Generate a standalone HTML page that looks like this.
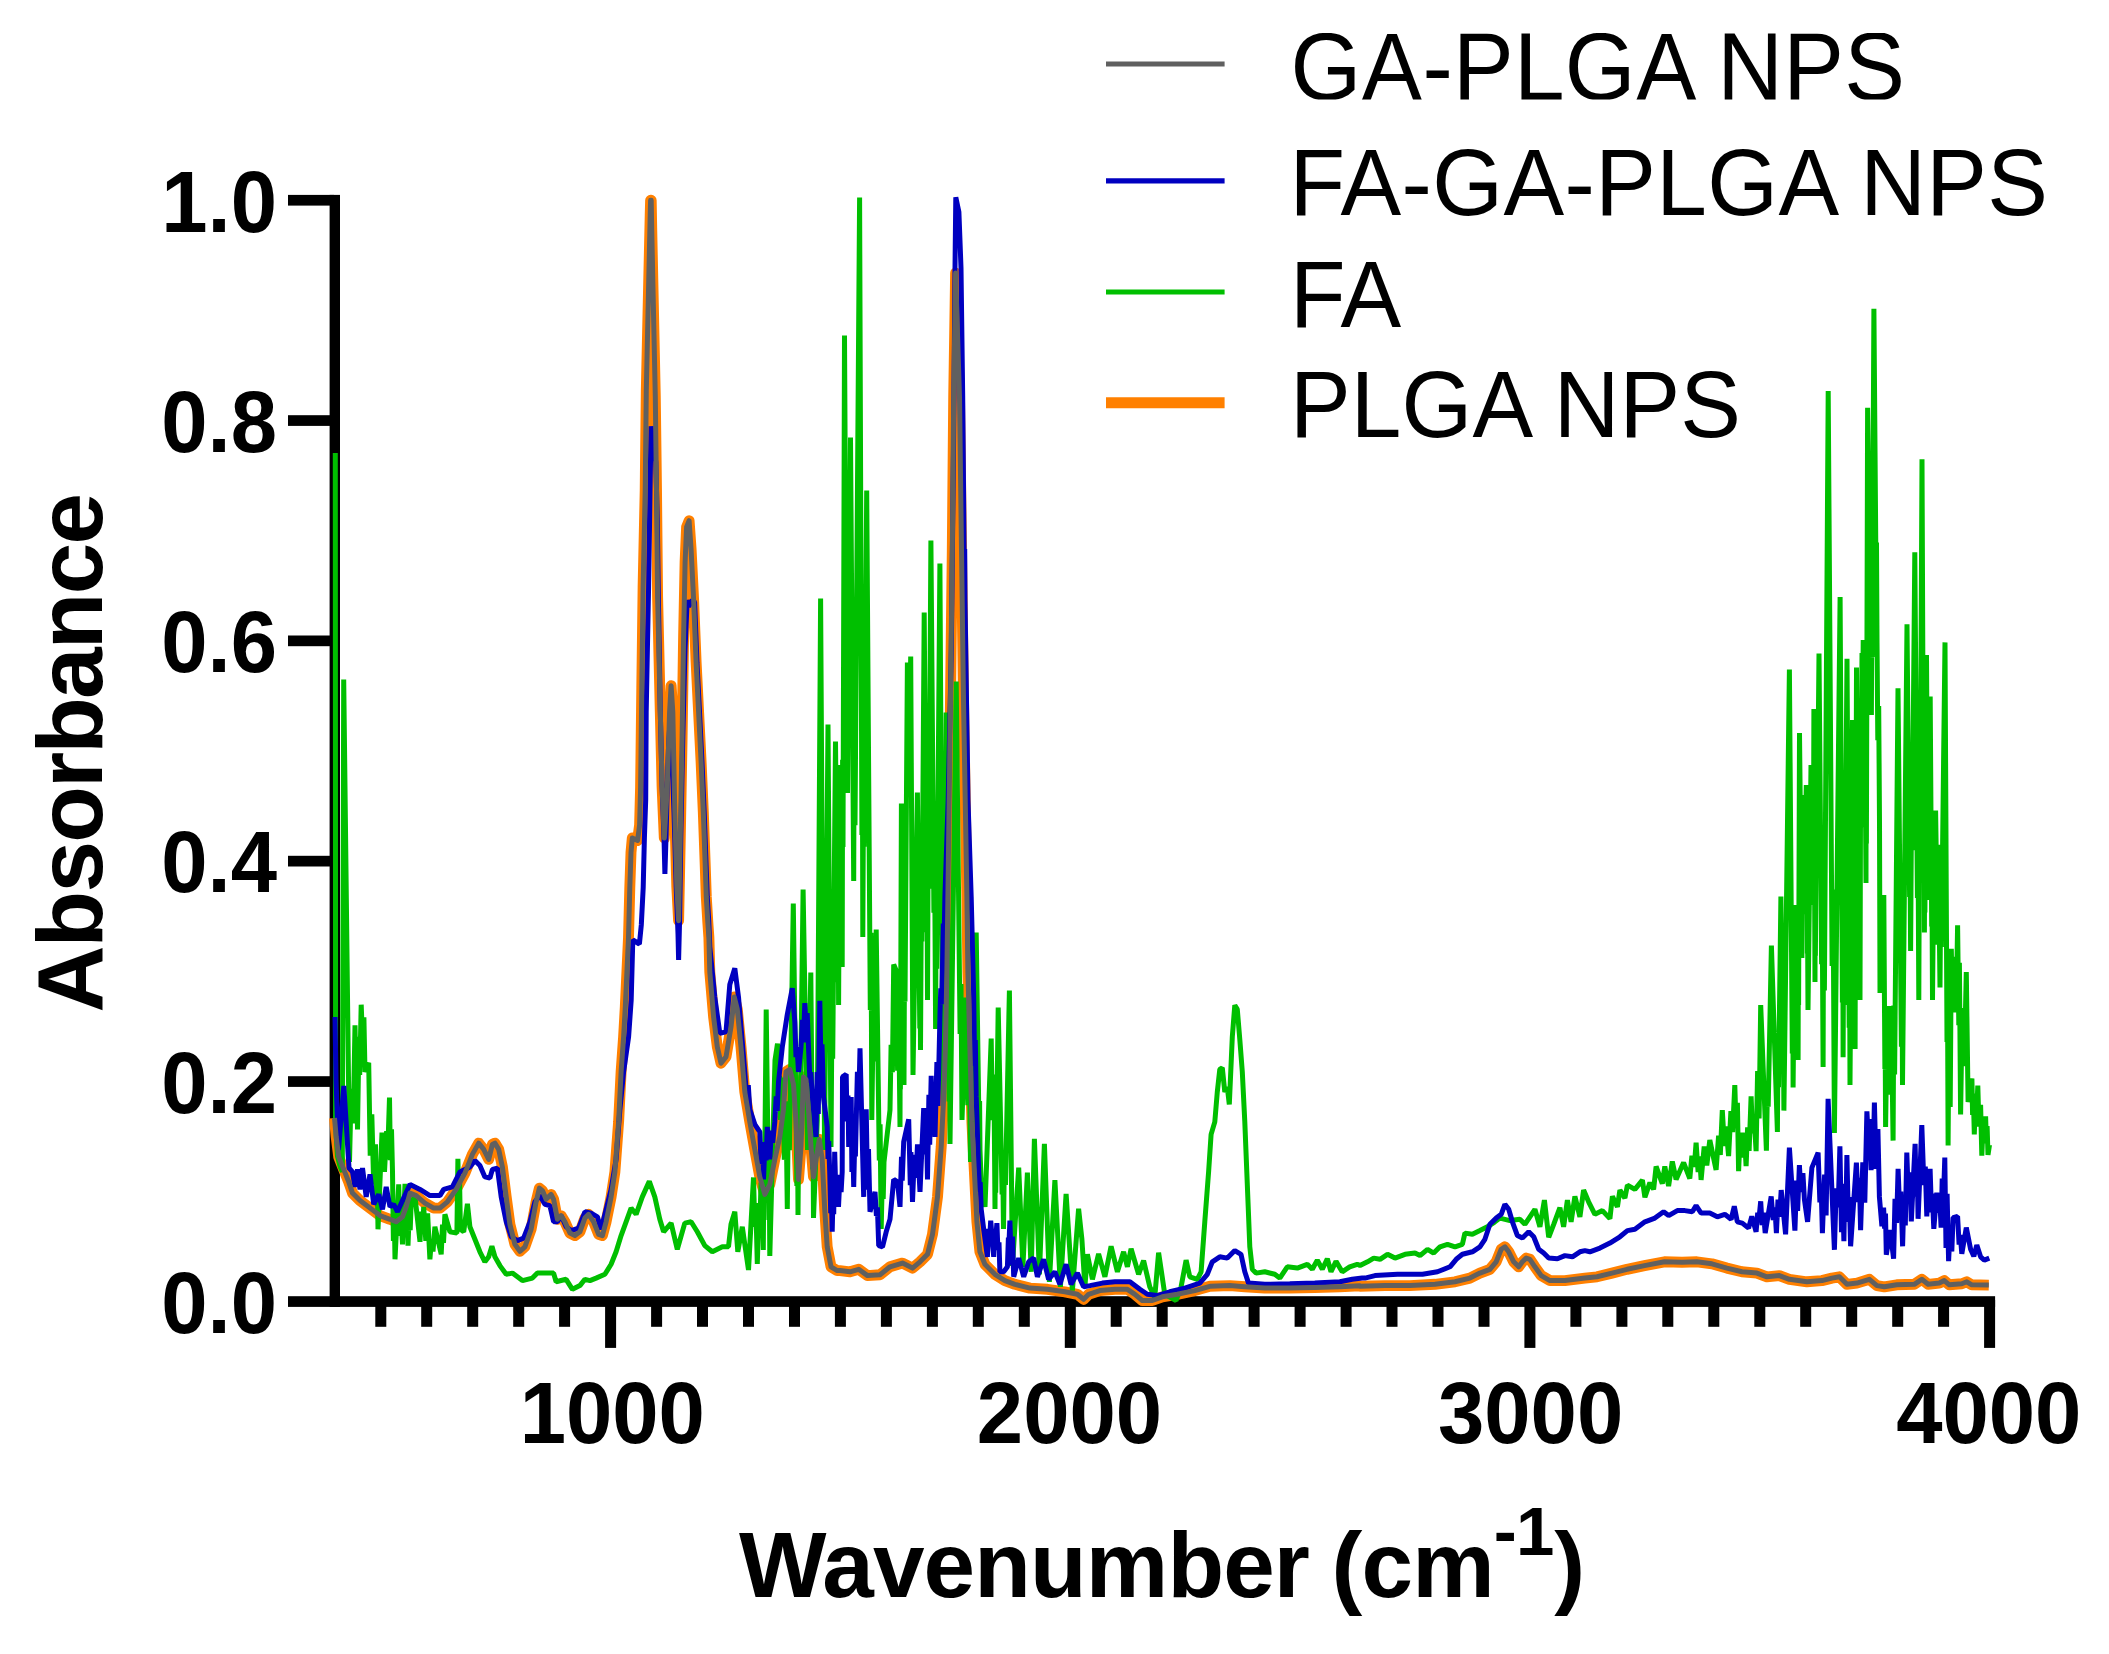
<!DOCTYPE html>
<html lang="en"><head><meta charset="utf-8"><title>FTIR Absorbance vs Wavenumber</title>
<style>html,body{margin:0;padding:0;background:#fff}svg{display:block}</style></head>
<body>
<svg width="2109" height="1654" viewBox="0 0 2109 1654">
<rect width="100%" height="100%" fill="#fff"/>
<g fill="#000">
<rect x="329.6" y="194.9" width="10.4" height="1112.0"/>
<rect x="288" y="1296.2" width="1707.1" height="10.7"/>
<rect x="288" y="1076.2" width="46" height="10.7"/>
<rect x="288" y="855.8" width="46" height="10.7"/>
<rect x="288" y="635.5" width="46" height="10.7"/>
<rect x="288" y="415.2" width="46" height="10.7"/>
<rect x="288" y="194.9" width="46" height="10.7"/>
<rect x="375.3" y="1300" width="11" height="26.8"/>
<rect x="421.2" y="1300" width="11" height="26.8"/>
<rect x="467.2" y="1300" width="11" height="26.8"/>
<rect x="513.2" y="1300" width="11" height="26.8"/>
<rect x="559.1" y="1300" width="11" height="26.8"/>
<rect x="605.1" y="1300" width="11" height="47.9"/>
<rect x="651.1" y="1300" width="11" height="26.8"/>
<rect x="697.0" y="1300" width="11" height="26.8"/>
<rect x="743.0" y="1300" width="11" height="26.8"/>
<rect x="789.0" y="1300" width="11" height="26.8"/>
<rect x="834.9" y="1300" width="11" height="26.8"/>
<rect x="880.9" y="1300" width="11" height="26.8"/>
<rect x="926.9" y="1300" width="11" height="26.8"/>
<rect x="972.8" y="1300" width="11" height="26.8"/>
<rect x="1018.8" y="1300" width="11" height="26.8"/>
<rect x="1064.8" y="1300" width="11" height="47.9"/>
<rect x="1110.7" y="1300" width="11" height="26.8"/>
<rect x="1156.7" y="1300" width="11" height="26.8"/>
<rect x="1202.7" y="1300" width="11" height="26.8"/>
<rect x="1248.6" y="1300" width="11" height="26.8"/>
<rect x="1294.6" y="1300" width="11" height="26.8"/>
<rect x="1340.6" y="1300" width="11" height="26.8"/>
<rect x="1386.5" y="1300" width="11" height="26.8"/>
<rect x="1432.5" y="1300" width="11" height="26.8"/>
<rect x="1478.5" y="1300" width="11" height="26.8"/>
<rect x="1524.4" y="1300" width="11" height="47.9"/>
<rect x="1570.4" y="1300" width="11" height="26.8"/>
<rect x="1616.4" y="1300" width="11" height="26.8"/>
<rect x="1662.3" y="1300" width="11" height="26.8"/>
<rect x="1708.3" y="1300" width="11" height="26.8"/>
<rect x="1754.3" y="1300" width="11" height="26.8"/>
<rect x="1800.2" y="1300" width="11" height="26.8"/>
<rect x="1846.2" y="1300" width="11" height="26.8"/>
<rect x="1892.2" y="1300" width="11" height="26.8"/>
<rect x="1938.1" y="1300" width="11" height="26.8"/>
<rect x="1984.1" y="1300" width="11" height="47.9"/>
</g>
<g fill="none" stroke-linejoin="round" stroke-linecap="butt">
<polyline stroke="#FF8000" stroke-width="10.9" points="334.5,1118.1 336.2,1136.9 338.7,1156.9 343.7,1169.4 348.7,1181.9 352.5,1193.1 360.0,1200.6 370.0,1208.1 380.0,1215.6 390.0,1219.3 396.2,1221.8 402.5,1216.8 406.2,1206.8 410.0,1193.1 416.2,1195.6 424.9,1203.1 433.7,1208.1 439.9,1208.1 447.4,1201.8 456.2,1189.4 464.9,1173.1 472.4,1154.4 478.7,1143.1 483.7,1149.4 488.7,1159.4 492.4,1144.4 494.9,1143.1 498.7,1149.4 502.4,1166.9 506.2,1196.9 509.9,1224.3 514.9,1244.3 519.9,1251.3 524.9,1246.8 531.1,1229.3 536.1,1201.8 539.4,1188.1 542.4,1190.6 546.1,1199.3 551.1,1194.4 553.6,1199.3 557.4,1219.3 561.1,1215.6 564.9,1221.8 569.9,1233.1 574.9,1235.6 579.9,1231.8 584.9,1218.1 588.6,1214.3 593.6,1221.8 598.6,1234.3 602.4,1235.6 606.1,1221.8 611.1,1196.9 614.9,1171.9 618.6,1121.9 621.1,1071.9 623.6,1036.9 625.3,1006.9 628.5,937.7 629.8,887.6 631.0,852.6 632.3,838.0 637.6,840.5 639.6,825.0 640.6,787.0 641.8,687.0 643.1,587.0 645.2,490.0 646.3,390.0 648.8,277.6 650.2,215.0 650.6,200.3 651.2,200.3 651.7,227.6 653.3,302.7 655.3,397.0 656.5,490.0 657.6,597.0 660.3,711.9 662.1,786.9 664.3,838.1 667.3,786.9 669.6,711.9 671.1,685.7 672.8,711.9 674.8,811.8 676.8,886.8 678.6,920.7 680.3,836.8 682.1,736.9 683.6,636.9 685.1,562.0 686.6,527.0 689.1,520.7 691.1,549.5 693.6,599.4 696.1,661.9 698.6,711.9 701.1,761.9 703.3,811.8 705.1,861.8 706.3,897.0 707.8,922.0 708.9,937.7 709.8,972.0 713.6,1016.9 717.3,1046.9 721.0,1063.2 726.0,1056.9 731.0,1026.9 734.3,997.0 737.3,1009.4 741.0,1046.9 744.8,1091.9 749.8,1121.9 754.8,1149.4 759.8,1176.9 764.8,1194.4 769.8,1184.4 774.8,1159.4 779.8,1136.9 783.5,1109.4 786.0,1071.9 789.8,1069.4 793.5,1084.4 796.0,1121.9 798.5,1179.4 801.0,1146.9 803.5,1076.9 806.0,1079.4 808.5,1109.4 811.0,1146.9 813.5,1176.9 816.0,1159.4 819.3,1139.4 822.2,1159.4 824.7,1209.3 827.2,1246.8 831.0,1266.8 837.2,1270.6 840.0,1270.6 850.0,1271.8 858.7,1269.3 867.5,1275.6 880.0,1274.8 890.0,1266.8 902.5,1263.1 912.5,1268.1 920.0,1261.8 927.5,1254.3 932.5,1234.3 937.5,1196.9 941.2,1146.9 943.7,1096.9 945.4,1046.9 946.9,972.0 947.9,897.0 950.5,700.0 952.3,550.0 953.7,397.0 955.6,273.0 959.5,397.0 961.5,550.0 963.5,700.0 966.9,897.0 967.9,972.0 969.9,1046.9 971.9,1121.9 974.4,1171.9 976.9,1221.8 979.9,1251.8 984.9,1264.3 994.9,1274.3 1004.9,1280.6 1014.9,1284.3 1029.9,1288.1 1047.4,1289.3 1064.9,1291.8 1077.4,1294.3 1083.6,1299.3 1088.6,1294.3 1099.9,1290.6 1114.9,1289.3 1127.4,1289.3 1134.9,1294.3 1142.3,1300.5 1152.3,1300.5 1162.3,1296.8 1177.3,1294.3 1194.8,1290.6 1209.8,1286.3 1229.8,1285.6 1244.8,1286.8 1264.8,1288.1 1289.8,1288.1 1314.8,1287.6 1339.8,1286.8 1359.7,1285.8 1360.0,1286.3 1385.0,1285.6 1410.0,1285.6 1435.0,1284.3 1455.0,1281.8 1469.9,1278.1 1479.9,1273.1 1489.9,1269.3 1496.2,1261.8 1501.2,1249.3 1504.9,1246.8 1508.7,1251.8 1513.7,1261.8 1518.7,1266.8 1522.4,1261.8 1526.2,1258.1 1529.9,1259.3 1534.9,1266.8 1541.2,1275.6 1549.9,1280.6 1564.9,1280.6 1584.9,1278.1 1597.0,1276.8 1612.0,1273.1 1627.0,1269.3 1644.5,1265.6 1664.5,1261.8 1682.0,1262.3 1696.9,1261.8 1711.9,1263.8 1726.9,1268.1 1741.9,1271.8 1756.9,1273.1 1766.9,1276.8 1779.4,1275.6 1789.4,1279.3 1806.9,1281.8 1821.9,1280.6 1831.9,1278.1 1839.4,1276.8 1846.9,1284.3 1856.9,1283.1 1869.4,1279.3 1876.9,1285.6 1884.3,1286.8 1896.8,1284.8 1914.3,1284.3 1921.8,1279.3 1928.1,1284.3 1939.3,1283.1 1944.3,1280.6 1949.3,1284.8 1961.8,1283.8 1966.8,1281.8 1971.8,1284.8 1988.8,1285.1"/>
<polyline stroke="#00BF00" stroke-width="5" stroke-linejoin="bevel" points="335.3,453.0 335.6,1118.0 336.3,1137.7 337.5,1156.5 340.0,1166.5 342.3,1171.7 343.7,679.5 349.5,1162.0 351.2,1088.7 353.2,1123.4 355.0,1025.2 355.9,1080.7 356.5,1056.7 357.5,1129.4 359.0,1036.7 359.7,1075.0 361.2,1004.7 362.5,1038.8 363.9,1017.3 365.0,1071.9 368.7,1062.7 370.2,1155.7 371.8,1114.4 373.7,1184.4 374.3,1165.0 374.9,1170.9 375.5,1144.4 376.3,1197.8 377.1,1168.2 378.0,1229.3 382.0,1132.6 382.8,1161.9 383.7,1145.0 384.5,1171.9 386.6,1131.2 387.5,1159.3 389.5,1097.6 390.4,1160.1 391.5,1129.3 392.5,1171.9 393.4,1240.9 394.2,1210.5 395.0,1259.3 398.7,1184.4 400.1,1236.0 400.9,1211.1 402.5,1244.3 405.0,1183.9 406.0,1212.6 407.0,1198.6 408.0,1245.6 408.9,1221.3 410.2,1230.1 411.2,1201.8 415.0,1196.9 420.0,1241.8 421.3,1211.6 422.4,1228.9 423.7,1206.8 425.8,1240.9 427.6,1213.3 429.9,1259.3 431.5,1239.9 433.0,1251.5 434.9,1226.8 441.2,1254.3 442.5,1224.6 443.5,1242.8 444.9,1214.3 449.9,1231.8 456.9,1233.1 457.9,1158.9 458.8,1205.1 459.6,1181.9 460.4,1229.3 463.7,1231.8 467.4,1203.8 469.9,1226.8 474.9,1239.3 479.9,1251.8 484.9,1261.8 488.7,1256.8 491.9,1246.3 494.9,1256.8 499.9,1265.6 506.2,1274.3 512.4,1273.1 522.4,1280.6 532.4,1278.1 537.4,1273.1 553.6,1273.1 556.1,1281.8 566.1,1279.3 572.4,1289.3 579.9,1285.6 584.9,1279.3 589.9,1280.6 596.1,1278.1 604.9,1274.3 611.1,1264.3 616.1,1251.8 621.1,1235.6 626.1,1221.8 631.1,1208.1 636.1,1214.3 642.3,1196.9 649.3,1181.4 654.8,1196.9 659.8,1219.3 663.6,1231.8 671.1,1223.1 677.3,1249.3 684.8,1223.1 691.1,1221.8 697.3,1231.8 704.8,1245.6 712.3,1251.8 722.3,1246.8 728.5,1246.8 731.0,1224.3 734.8,1211.8 737.8,1251.8 742.3,1226.8 748.5,1270.0 753.5,1177.5 754.8,1226.8 755.8,1203.1 757.3,1264.0 758.4,1225.9 759.6,1236.7 761.0,1182.5 761.8,1226.2 762.3,1196.0 763.3,1250.0 763.9,1169.1 764.4,1197.6 766.2,1009.5 768.9,1220.0 769.4,1198.6 769.8,1256.0 775.0,1060.0 777.5,1043.5 778.3,1096.2 779.6,1075.7 780.5,1120.0 781.4,1091.2 782.3,1110.9 783.0,1077.5 784.3,1159.8 786.0,1106.1 787.3,1209.0 788.4,1101.4 789.4,1150.2 793.3,903.5 796.9,1186.0 797.7,1160.1 798.0,1215.0 799.1,1092.2 799.9,1139.1 803.1,889.5 807.5,1150.0 810.8,972.5 812.6,1169.4 813.1,1148.7 813.5,1218.0 817.3,1120.0 820.6,598.5 823.1,1011.9 823.7,954.1 824.5,1150.0 828.0,724.5 831.0,1147.0 832.0,1006.9 832.7,1058.8 835.5,741.5 837.9,982.1 838.4,952.2 838.6,1005.0 839.0,924.5 839.2,952.9 840.3,765.0 841.5,915.0 841.8,901.1 842.2,967.0 842.6,759.7 843.0,847.1 844.5,335.5 846.7,730.3 847.2,680.1 847.5,793.0 848.0,691.8 848.4,730.5 850.5,437.5 853.7,881.0 854.1,740.9 855.0,825.2 859.6,197.5 861.9,835.1 862.4,747.6 862.8,937.0 863.5,791.2 864.1,846.7 866.7,490.5 870.3,1010.1 871.1,932.7 871.8,1120.0 873.5,994.4 874.9,1061.5 876.2,929.5 879.3,1160.5 880.1,1124.4 881.2,1229.0 882.3,1178.7 883.2,1198.9 884.0,1162.0 890.0,1110.0 891.1,1044.8 892.4,1072.3 893.7,964.5 896.0,970.0 897.6,1070.8 898.8,1021.9 900.0,1127.0 900.2,1047.1 900.4,1089.3 901.4,803.5 903.2,1033.5 903.6,1006.6 904.0,1085.0 904.5,957.4 905.0,1001.6 907.4,662.5 907.9,717.7 908.4,681.7 909.0,760.0 910.7,656.5 913.0,1075.0 917.4,792.5 919.8,1028.4 920.2,996.7 920.5,1050.0 921.3,904.5 921.9,941.5 924.2,612.5 926.5,932.3 927.1,891.8 927.5,1000.0 928.2,836.8 928.7,888.8 930.9,540.5 933.9,912.8 934.6,857.3 935.6,1029.0 936.0,931.2 936.7,968.8 939.9,563.5 942.5,1025.9 943.1,959.5 943.5,1100.0 943.7,1032.8 944.1,1062.2 946.2,712.5 949.1,1101.5 949.7,1039.1 950.0,1144.0 956.2,681.5 960.1,1033.9 961.0,983.9 962.0,1120.0 966.0,997.5 967.8,1105.1 969.1,1047.7 970.5,1162.0 971.0,1106.8 971.9,1134.3 976.2,932.5 979.0,1126.4 979.6,1100.9 980.0,1150.0 981.7,1195.4 983.0,1179.7 985.0,1207.0 991.2,1038.5 992.4,1120.1 993.9,1074.6 995.0,1209.0 995.2,1172.2 995.7,1192.8 998.2,1007.5 1002.1,1194.4 1002.9,1180.3 1003.5,1229.0 1004.5,1150.4 1005.5,1184.9 1009.4,990.5 1012.4,1266.0 1018.7,1167.6 1022.9,1266.8 1027.4,1172.6 1031.2,1271.8 1034.4,1138.9 1039.4,1274.3 1044.4,1143.9 1049.4,1281.8 1054.9,1180.1 1060.4,1286.8 1066.1,1193.9 1072.4,1290.6 1078.6,1208.8 1081.9,1239.3 1084.9,1286.8 1087.4,1254.3 1092.4,1279.3 1098.6,1253.8 1104.9,1276.8 1111.1,1246.3 1117.4,1271.8 1123.6,1251.8 1127.4,1266.8 1131.1,1248.8 1138.6,1274.3 1143.6,1260.6 1149.8,1286.8 1154.8,1296.8 1158.6,1252.6 1164.8,1294.3 1176.1,1300.5 1181.1,1286.8 1186.1,1260.1 1189.8,1276.8 1197.3,1279.3 1201.1,1271.8 1204.8,1221.8 1208.6,1171.9 1211.1,1134.4 1214.8,1121.9 1217.3,1091.9 1219.8,1069.4 1222.3,1067.7 1224.8,1091.9 1227.3,1086.9 1229.3,1104.4 1232.3,1036.9 1234.8,1005.2 1237.3,1009.4 1239.8,1039.4 1242.3,1071.9 1244.8,1121.9 1247.3,1184.4 1249.8,1246.8 1252.3,1269.3 1256.0,1273.1 1264.8,1271.8 1274.8,1274.3 1279.8,1278.1 1287.3,1266.8 1297.3,1268.1 1307.3,1264.3 1312.3,1269.3 1317.3,1260.1 1322.3,1269.3 1327.3,1258.8 1331.0,1271.8 1336.0,1261.3 1342.2,1271.8 1349.7,1266.8 1357.2,1264.3 1360.0,1265.6 1367.5,1261.8 1373.7,1258.1 1380.0,1259.3 1387.5,1254.3 1395.0,1258.1 1405.0,1254.3 1415.0,1253.1 1420.0,1255.6 1427.5,1249.3 1433.7,1253.1 1440.0,1246.8 1447.5,1244.3 1455.0,1246.8 1462.4,1244.3 1464.9,1233.1 1472.4,1234.3 1479.9,1230.6 1487.4,1226.8 1494.9,1221.8 1499.9,1218.1 1509.9,1220.6 1519.9,1219.3 1524.9,1224.3 1534.9,1209.3 1539.9,1226.8 1544.4,1200.1 1548.7,1237.3 1553.7,1224.3 1559.9,1207.6 1563.6,1226.8 1567.4,1200.1 1571.1,1221.8 1574.9,1196.4 1579.9,1216.8 1583.6,1190.1 1588.6,1201.8 1594.9,1214.3 1602.4,1210.6 1609.9,1218.6 1612.4,1196.4 1617.4,1206.8 1619.9,1190.1 1624.9,1198.1 1627.4,1185.1 1634.9,1189.4 1642.4,1180.1 1644.9,1197.3 1649.9,1182.6 1653.6,1189.4 1656.1,1166.4 1662.3,1183.6 1664.8,1166.4 1668.6,1186.1 1672.3,1161.4 1676.1,1179.4 1683.6,1162.6 1689.8,1178.6 1691.9,1155.7 1694.3,1166.9 1696.1,1142.6 1698.1,1172.1 1699.6,1156.5 1701.1,1179.9 1704.2,1146.4 1706.8,1165.5 1709.8,1140.1 1716.1,1169.9 1718.6,1135.7 1720.3,1155.0 1722.3,1110.1 1724.4,1146.1 1726.0,1126.5 1728.6,1156.1 1730.9,1111.1 1732.6,1132.1 1734.8,1085.2 1736.1,1128.2 1737.4,1102.7 1738.6,1171.1 1739.8,1142.3 1741.1,1154.9 1742.3,1132.6 1743.6,1157.6 1744.8,1142.9 1746.1,1166.1 1747.6,1127.3 1749.1,1150.9 1751.1,1096.4 1752.5,1133.4 1754.0,1115.5 1756.1,1151.1 1757.6,1071.1 1759.1,1118.5 1760.7,1005.0 1766.4,1150.6 1767.4,1088.6 1768.2,1106.8 1771.4,945.5 1777.4,1132.0 1777.9,1056.7 1778.5,1087.2 1780.9,896.6 1783.0,1071.3 1783.5,1046.3 1783.9,1110.6 1789.4,669.5 1792.3,1053.5 1792.9,1015.6 1793.1,1087.5 1794.0,989.7 1794.7,1031.1 1795.6,905.0 1798.1,1060.0 1798.3,964.7 1798.6,1004.9 1799.5,733.0 1801.9,958.0 1802.3,837.7 1802.7,914.2 1803.2,795.0 1803.7,830.7 1804.1,808.3 1804.8,864.0 1806.3,785.0 1807.4,953.4 1807.6,932.3 1808.0,1010.0 1811.0,765.0 1812.3,905.0 1813.0,798.0 1813.4,876.3 1813.9,709.0 1815.0,982.0 1815.1,925.7 1815.4,955.8 1816.8,722.0 1817.6,800.0 1819.0,653.4 1821.6,964.3 1822.2,913.7 1823.1,1067.0 1823.5,911.4 1824.4,990.5 1828.2,391.1 1832.1,965.9 1833.1,889.5 1834.4,1133.0 1840.1,597.1 1842.4,1002.5 1842.9,962.9 1843.1,1057.3 1843.6,942.0 1844.2,1005.1 1847.0,658.7 1849.2,1027.8 1849.7,992.0 1850.0,1085.0 1852.5,720.0 1854.4,1015.6 1854.8,974.5 1855.1,1049.0 1855.4,909.0 1855.6,973.2 1856.5,667.5 1857.8,865.1 1858.1,832.0 1858.4,900.0 1859.2,790.0 1860.0,1000.0 1860.8,705.0 1861.4,752.0 1862.0,653.1 1862.7,707.9 1863.2,640.0 1865.0,827.3 1865.4,795.1 1866.0,883.0 1866.1,786.2 1866.4,843.4 1867.6,407.8 1871.4,715.0 1871.7,622.2 1872.1,657.1 1873.9,308.7 1876.0,574.1 1876.5,542.4 1877.0,640.0 1877.8,740.2 1878.7,705.9 1879.5,822.0 1880.0,993.0 1883.8,895.0 1884.9,1069.1 1885.2,1048.5 1885.6,1127.0 1886.7,1048.9 1887.6,1094.6 1889.0,1006.0 1890.5,1081.6 1891.9,1057.7 1893.1,1140.6 1893.8,1005.5 1894.6,1074.4 1898.0,688.3 1901.4,1046.8 1902.1,998.0 1902.5,1085.0 1907.0,624.3 1909.6,896.9 1910.1,869.3 1910.6,951.0 1911.5,811.6 1912.2,850.1 1914.8,552.2 1917.4,898.0 1918.0,836.4 1918.8,1000.0 1919.5,816.4 1920.0,865.6 1922.0,459.3 1923.7,866.1 1924.1,816.3 1924.4,932.5 1924.6,874.0 1924.9,912.4 1926.5,655.0 1928.0,900.0 1928.1,853.7 1928.5,881.3 1930.2,696.4 1931.7,926.5 1932.0,898.2 1932.5,1000.0 1933.5,888.4 1934.7,944.8 1935.6,810.5 1937.4,930.2 1938.3,844.8 1940.0,987.5 1940.6,905.9 1941.4,946.9 1945.0,642.4 1947.0,1042.0 1947.4,965.0 1948.1,1145.6 1949.1,1000.7 1950.2,1107.0 1951.3,948.8 1952.4,1003.3 1953.3,980.0 1954.4,1012.5 1955.7,956.7 1956.6,985.1 1957.6,925.3 1958.8,1025.1 1959.4,962.8 1960.6,1114.4 1962.2,1008.1 1964.3,1066.1 1966.3,972.0 1968.1,1102.0 1971.9,1078.5 1972.6,1115.0 1973.3,1093.5 1974.3,1134.4 1975.5,1094.7 1976.6,1115.8 1977.8,1085.5 1979.0,1126.6 1980.6,1104.9 1981.8,1155.6 1983.0,1127.0 1984.1,1135.2 1985.6,1116.4 1986.4,1143.3 1987.1,1126.0 1988.0,1155.0 1989.5,1145.0"/>
<polyline stroke="#0000C0" stroke-width="5" stroke-linejoin="bevel" points="335.0,1017.0 336.0,1080.0 338.5,1150.0 343.8,1086.0 346.0,1120.0 349.0,1168.0 352.5,1171.9 355.0,1186.9 357.5,1169.4 360.0,1189.4 362.5,1168.1 366.2,1196.9 370.0,1174.4 373.7,1204.3 378.7,1194.4 382.5,1209.3 386.2,1186.9 390.0,1206.8 393.7,1204.3 397.5,1211.8 402.5,1200.6 410.0,1184.4 420.0,1189.4 429.9,1195.6 439.9,1195.6 443.7,1189.4 452.4,1186.9 459.9,1171.9 469.9,1166.9 474.9,1160.6 479.9,1165.6 484.9,1176.9 489.9,1178.1 492.4,1169.4 497.4,1168.1 501.2,1196.9 506.2,1221.8 511.2,1236.8 517.4,1240.6 523.6,1238.1 529.9,1221.8 534.9,1201.8 539.9,1195.6 544.9,1204.3 549.9,1205.6 553.6,1221.8 557.4,1221.8 561.1,1215.6 566.1,1226.8 571.1,1230.6 578.6,1228.1 584.9,1211.8 591.1,1213.1 597.4,1216.8 601.1,1229.3 606.1,1209.3 611.1,1189.4 616.1,1159.4 619.9,1109.4 623.6,1071.9 628.6,1036.9 631.2,1000.0 632.8,940.0 639.4,944.0 641.3,925.0 643.2,887.6 644.4,837.6 645.7,800.0 646.2,712.0 648.6,587.0 650.2,480.0 651.1,426.3 655.8,462.0 657.3,520.0 658.4,600.0 660.3,712.0 662.1,787.0 664.0,838.0 664.9,874.0 666.0,838.0 667.3,787.0 668.6,745.0 670.0,722.0 671.6,745.0 674.0,812.0 676.2,887.0 678.0,934.0 678.6,960.0 679.6,920.0 680.8,837.0 682.8,737.0 685.0,650.0 687.2,600.0 688.7,606.5 692.5,600.0 694.6,602.0 697.0,663.0 699.5,712.0 702.0,762.0 704.2,812.0 706.0,862.0 707.3,897.0 708.8,922.0 709.8,947.0 714.8,997.0 719.8,1033.2 726.0,1031.9 729.8,984.5 734.8,968.2 738.5,997.0 744.8,1071.9 746.6,1097.7 748.3,1085.2 749.8,1109.4 754.8,1124.4 759.8,1131.9 761.1,1164.0 762.3,1149.0 763.5,1179.4 765.0,1142.2 766.1,1160.3 767.3,1126.9 768.2,1140.9 768.8,1133.1 769.8,1159.4 771.4,1130.7 772.7,1142.7 774.8,1121.9 776.2,1096.3 777.2,1111.0 778.5,1081.9 782.3,1046.9 787.3,1014.4 792.3,988.2 794.8,1021.9 796.0,1057.1 797.1,1047.1 798.5,1071.9 801.0,1046.9 802.5,1019.8 803.4,1042.4 804.8,1003.2 806.3,1031.5 807.2,1013.0 808.5,1046.9 810.0,1082.8 810.8,1072.2 812.3,1096.9 816.0,1136.9 817.2,1072.0 818.3,1114.0 819.8,1000.7 821.1,1074.2 822.0,1044.4 823.5,1096.9 827.2,1126.9 828.0,1158.9 828.7,1141.2 829.7,1171.9 830.7,1213.2 831.2,1189.5 832.2,1231.8 833.2,1186.6 833.7,1214.3 834.7,1151.9 835.8,1191.4 837.0,1174.8 838.5,1206.8 839.8,1179.7 841.1,1192.0 842.2,1171.9 842.5,1076.9 846.2,1074.4 847.0,1121.3 848.0,1095.6 848.7,1146.9 849.7,1106.9 850.2,1133.1 851.2,1096.9 851.9,1171.9 852.7,1137.3 853.7,1186.9 854.7,1142.0 855.4,1156.5 856.2,1121.9 857.4,1071.7 858.7,1104.3 860.0,1048.2 863.7,1196.9 864.4,1147.8 865.2,1168.1 866.2,1109.4 867.6,1189.7 868.5,1149.1 870.0,1211.8 875.0,1191.9 876.4,1215.9 877.4,1207.3 878.7,1245.6 882.5,1246.8 886.2,1231.8 890.0,1219.3 893.7,1179.4 897.5,1181.9 900.0,1206.8 901.5,1156.9 902.2,1180.6 903.7,1141.9 908.7,1119.4 910.3,1185.3 910.9,1152.2 912.5,1201.8 914.4,1154.9 916.0,1177.8 917.5,1144.4 920.0,1191.9 923.7,1108.1 925.2,1154.5 926.4,1127.2 927.5,1179.4 928.9,1094.9 929.7,1144.6 931.2,1075.7 932.5,1124.0 933.8,1102.9 935.0,1136.9 936.9,1062.0 937.9,1105.9 940.0,1014.4 940.8,988.3 941.6,1004.3 942.4,972.0 943.3,923.6 943.9,950.3 944.9,897.0 948.2,800.0 951.3,650.0 953.5,450.0 955.0,268.0 955.8,197.3 958.9,212.0 961.0,268.0 962.7,397.0 964.3,571.8 964.7,549.1 965.0,600.0 968.0,800.0 971.2,897.0 973.7,997.0 974.6,1066.0 975.3,1040.1 976.2,1096.9 978.7,1171.9 979.7,1191.7 980.2,1182.1 981.2,1209.3 983.7,1229.3 987.4,1256.8 988.5,1228.9 989.6,1239.7 990.7,1220.6 993.7,1256.8 994.6,1229.3 995.6,1240.2 996.9,1223.1 997.9,1249.9 999.0,1242.4 999.9,1271.8 1003.7,1271.8 1007.4,1266.8 1008.4,1237.7 1008.9,1245.2 1009.9,1220.6 1011.3,1265.2 1012.5,1236.6 1013.7,1276.8 1018.7,1258.1 1023.7,1276.8 1028.7,1261.8 1033.7,1258.1 1037.4,1276.8 1043.6,1259.3 1048.6,1279.3 1054.9,1271.8 1059.9,1284.3 1066.1,1264.3 1071.1,1284.3 1077.4,1273.1 1083.6,1286.8 1089.9,1285.6 1102.4,1283.1 1114.9,1281.8 1129.9,1281.8 1139.9,1289.3 1147.3,1294.3 1157.3,1295.6 1169.8,1291.8 1184.8,1288.1 1199.8,1283.1 1207.3,1274.3 1212.3,1261.8 1219.8,1256.8 1227.3,1258.1 1234.8,1250.6 1241.0,1254.3 1244.8,1271.8 1248.5,1283.1 1264.8,1284.3 1289.8,1283.8 1314.8,1283.1 1339.8,1281.8 1352.2,1279.3 1362.2,1278.1 1365.0,1278.1 1375.0,1275.6 1397.5,1274.3 1422.5,1274.3 1437.5,1271.8 1450.0,1266.8 1456.2,1259.3 1462.4,1254.3 1472.4,1251.8 1479.9,1246.8 1484.9,1239.3 1489.9,1224.3 1496.2,1218.1 1501.2,1214.3 1504.9,1204.3 1508.7,1209.3 1512.4,1221.8 1517.4,1235.6 1522.4,1238.1 1528.7,1231.8 1533.7,1236.8 1538.7,1249.3 1543.7,1253.1 1548.7,1258.1 1557.4,1258.8 1564.9,1255.6 1572.4,1256.8 1579.9,1251.8 1584.9,1250.6 1589.9,1251.8 1599.9,1248.1 1609.9,1243.1 1619.9,1236.8 1627.4,1230.6 1634.9,1229.3 1644.9,1221.8 1654.9,1218.1 1663.6,1211.8 1668.6,1215.6 1677.3,1210.6 1684.8,1210.6 1692.3,1211.8 1696.1,1205.6 1701.1,1213.1 1709.8,1213.1 1717.3,1216.8 1724.8,1214.3 1731.1,1219.3 1734.3,1206.3 1737.3,1221.8 1742.3,1223.1 1748.6,1228.1 1751.8,1216.3 1756.1,1231.8 1757.7,1212.7 1758.9,1219.6 1760.7,1201.3 1762.1,1225.1 1763.5,1212.7 1765.2,1233.1 1771.2,1196.4 1773.2,1220.1 1774.9,1207.5 1776.4,1233.1 1778.0,1199.5 1779.6,1216.9 1781.2,1190.1 1785.6,1234.3 1789.4,1147.6 1794.9,1230.6 1796.6,1180.7 1797.6,1210.8 1799.4,1165.1 1800.9,1192.0 1802.9,1173.2 1804.4,1199.3 1807.6,1221.8 1811.9,1167.6 1818.1,1152.6 1819.9,1202.4 1821.1,1185.1 1822.4,1233.1 1824.6,1174.7 1826.1,1215.5 1828.1,1098.9 1834.4,1249.8 1836.2,1188.2 1838.2,1207.2 1839.9,1146.4 1841.5,1232.1 1842.6,1190.7 1843.9,1241.3 1844.8,1183.9 1845.9,1213.6 1846.9,1155.1 1848.4,1221.9 1849.3,1197.0 1850.6,1246.3 1856.4,1162.6 1858.1,1202.1 1859.4,1177.7 1860.6,1230.1 1862.8,1162.3 1864.8,1202.6 1866.9,1111.4 1868.5,1143.0 1869.7,1120.7 1871.1,1170.1 1872.2,1119.1 1873.5,1144.9 1874.4,1102.6 1876.1,1168.9 1877.9,1129.0 1879.4,1196.9 1881.9,1226.3 1883.6,1207.6 1884.6,1228.6 1885.5,1213.5 1886.3,1254.8 1890.1,1230.1 1893.6,1258.8 1895.0,1198.9 1896.6,1223.0 1898.1,1168.9 1899.8,1213.9 1900.8,1191.7 1902.6,1246.3 1904.0,1194.9 1905.3,1225.5 1906.8,1152.6 1908.5,1201.4 1909.8,1172.3 1911.3,1221.3 1915.1,1143.9 1916.3,1196.6 1917.2,1167.5 1918.1,1218.8 1921.8,1125.1 1923.9,1185.1 1925.3,1166.6 1926.8,1216.3 1927.8,1190.7 1929.1,1209.0 1930.1,1168.9 1931.5,1212.5 1932.3,1193.7 1933.8,1228.8 1936.8,1192.6 1938.3,1212.8 1939.8,1199.5 1941.1,1227.6 1942.2,1178.5 1943.3,1203.3 1944.8,1157.6 1946.0,1247.9 1947.1,1193.8 1948.6,1261.1 1949.9,1234.6 1951.8,1251.5 1953.1,1217.6 1957.6,1216.3 1959.1,1244.5 1960.3,1235.0 1961.8,1253.8 1966.3,1227.6 1970.6,1249.3 1973.8,1256.3 1976.8,1245.1 1980.6,1256.8 1984.3,1260.1 1989.3,1258.1"/>
<polyline stroke="#606060" stroke-width="5" points="334.5,1118.1 336.2,1136.9 338.7,1156.9 343.7,1169.4 348.7,1181.9 352.5,1193.1 360.0,1200.6 370.0,1208.1 380.0,1215.6 390.0,1219.3 396.2,1221.8 402.5,1216.8 406.2,1206.8 410.0,1193.1 416.2,1195.6 424.9,1203.1 433.7,1208.1 439.9,1208.1 447.4,1201.8 456.2,1189.4 464.9,1173.1 472.4,1154.4 478.7,1143.1 483.7,1149.4 488.7,1159.4 492.4,1144.4 494.9,1143.1 498.7,1149.4 502.4,1166.9 506.2,1196.9 509.9,1224.3 514.9,1244.3 519.9,1251.3 524.9,1246.8 531.1,1229.3 536.1,1201.8 539.4,1188.1 542.4,1190.6 546.1,1199.3 551.1,1194.4 553.6,1199.3 557.4,1219.3 561.1,1215.6 564.9,1221.8 569.9,1233.1 574.9,1235.6 579.9,1231.8 584.9,1218.1 588.6,1214.3 593.6,1221.8 598.6,1234.3 602.4,1235.6 606.1,1221.8 611.1,1196.9 614.9,1171.9 618.6,1121.9 621.1,1071.9 623.6,1036.9 625.3,1006.9 628.5,937.7 629.8,887.6 631.0,852.6 632.3,838.0 637.6,840.5 639.6,825.0 640.6,787.0 641.8,687.0 643.1,587.0 645.2,490.0 646.3,390.0 648.8,277.6 650.2,215.0 650.6,200.3 651.2,200.3 651.7,227.6 653.3,302.7 655.3,397.0 656.5,490.0 657.6,597.0 660.3,711.9 662.1,786.9 664.3,838.1 667.3,786.9 669.6,711.9 671.1,685.7 672.8,711.9 674.8,811.8 676.8,886.8 678.6,920.7 680.3,836.8 682.1,736.9 683.6,636.9 685.1,562.0 686.6,527.0 689.1,520.7 691.1,549.5 693.6,599.4 696.1,661.9 698.6,711.9 701.1,761.9 703.3,811.8 705.1,861.8 706.3,897.0 707.8,922.0 708.9,937.7 709.8,972.0 713.6,1016.9 717.3,1046.9 721.0,1063.2 726.0,1056.9 731.0,1026.9 734.3,997.0 737.3,1009.4 741.0,1046.9 744.8,1091.9 749.8,1121.9 754.8,1149.4 759.8,1176.9 764.8,1194.4 769.8,1184.4 774.8,1159.4 779.8,1136.9 783.5,1109.4 786.0,1071.9 789.8,1069.4 793.5,1084.4 796.0,1121.9 798.5,1179.4 801.0,1146.9 803.5,1076.9 806.0,1079.4 808.5,1109.4 811.0,1146.9 813.5,1176.9 816.0,1159.4 819.3,1139.4 822.2,1159.4 824.7,1209.3 827.2,1246.8 831.0,1266.8 837.2,1270.6 840.0,1270.6 850.0,1271.8 858.7,1269.3 867.5,1275.6 880.0,1274.8 890.0,1266.8 902.5,1263.1 912.5,1268.1 920.0,1261.8 927.5,1254.3 932.5,1234.3 937.5,1196.9 941.2,1146.9 943.7,1096.9 945.4,1046.9 946.9,972.0 947.9,897.0 950.5,700.0 952.3,550.0 953.7,397.0 955.6,273.0 959.5,397.0 961.5,550.0 963.5,700.0 966.9,897.0 967.9,972.0 969.9,1046.9 971.9,1121.9 974.4,1171.9 976.9,1221.8 979.9,1251.8 984.9,1264.3 994.9,1274.3 1004.9,1280.6 1014.9,1284.3 1029.9,1288.1 1047.4,1289.3 1064.9,1291.8 1077.4,1294.3 1083.6,1299.3 1088.6,1294.3 1099.9,1290.6 1114.9,1289.3 1127.4,1289.3 1134.9,1294.3 1142.3,1300.5 1152.3,1300.5 1162.3,1296.8 1177.3,1294.3 1194.8,1290.6 1209.8,1286.3 1229.8,1285.6 1244.8,1286.8 1264.8,1288.1 1289.8,1288.1 1314.8,1287.6 1339.8,1286.8 1359.7,1285.8 1360.0,1286.3 1385.0,1285.6 1410.0,1285.6 1435.0,1284.3 1455.0,1281.8 1469.9,1278.1 1479.9,1273.1 1489.9,1269.3 1496.2,1261.8 1501.2,1249.3 1504.9,1246.8 1508.7,1251.8 1513.7,1261.8 1518.7,1266.8 1522.4,1261.8 1526.2,1258.1 1529.9,1259.3 1534.9,1266.8 1541.2,1275.6 1549.9,1280.6 1564.9,1280.6 1584.9,1278.1 1597.0,1276.8 1612.0,1273.1 1627.0,1269.3 1644.5,1265.6 1664.5,1261.8 1682.0,1262.3 1696.9,1261.8 1711.9,1263.8 1726.9,1268.1 1741.9,1271.8 1756.9,1273.1 1766.9,1276.8 1779.4,1275.6 1789.4,1279.3 1806.9,1281.8 1821.9,1280.6 1831.9,1278.1 1839.4,1276.8 1846.9,1284.3 1856.9,1283.1 1869.4,1279.3 1876.9,1285.6 1884.3,1286.8 1896.8,1284.8 1914.3,1284.3 1921.8,1279.3 1928.1,1284.3 1939.3,1283.1 1944.3,1280.6 1949.3,1284.8 1961.8,1283.8 1966.8,1281.8 1971.8,1284.8 1988.8,1285.1"/>
</g>
<g stroke-linecap="butt">
<line x1="1106" x2="1224.6" y1="64" y2="64" stroke="#606060" stroke-width="5.2"/>
<line x1="1106" x2="1224.6" y1="180.9" y2="180.9" stroke="#0000C0" stroke-width="5.2"/>
<line x1="1106" x2="1224.6" y1="292" y2="292" stroke="#00BF00" stroke-width="5.2"/>
<line x1="1106" x2="1224.6" y1="402.8" y2="402.8" stroke="#FF8000" stroke-width="10.9"/>
</g>
<g font-family="'Liberation Sans', Arial, sans-serif" fill="#000">
<defs><clipPath id="c1"><rect x="1280" y="33.1" width="700" height="66.4"/></clipPath></defs>
<g clip-path="url(#c1)"><text transform="translate(1290.5,99.5) scale(1,1.062)" font-size="91" textLength="614.5" lengthAdjust="spacing">GA-PLGA NPS</text></g>
<text transform="translate(1289.5,215.3) scale(1,1.0405)" font-size="91" textLength="758.5" lengthAdjust="spacing">FA-GA-PLGA NPS</text>
<text transform="translate(1290,326.6) scale(1,1.0405)" font-size="91" >FA</text>
<text transform="translate(1290,437.2) scale(1,1.0405)" font-size="91" textLength="451" lengthAdjust="spacing">PLGA NPS</text>
<g font-weight="bold">
<text transform="translate(277,1333.0) scale(1,1.0405)" font-size="83.3" text-anchor="end">0.0</text>
<text transform="translate(277,1112.7) scale(1,1.0405)" font-size="83.3" text-anchor="end">0.2</text>
<text transform="translate(277,892.4) scale(1,1.0405)" font-size="83.3" text-anchor="end">0.4</text>
<text transform="translate(277,672.1) scale(1,1.0405)" font-size="83.3" text-anchor="end">0.6</text>
<text transform="translate(277,451.8) scale(1,1.0405)" font-size="83.3" text-anchor="end">0.8</text>
<text transform="translate(277,231.5) scale(1,1.0405)" font-size="83.3" text-anchor="end">1.0</text>
<text transform="translate(612.3,1442.6) scale(1,1.0405)" font-size="83.3" text-anchor="middle">1000</text>
<text transform="translate(1069.5,1442.6) scale(1,1.0405)" font-size="83.3" text-anchor="middle">2000</text>
<text transform="translate(1530.6,1442.6) scale(1,1.0405)" font-size="83.3" text-anchor="middle">3000</text>
<text transform="translate(1988.8,1442.6) scale(1,1.0405)" font-size="83.3" text-anchor="middle">4000</text>
<text x="739" y="1596.6" font-size="92.7" letter-spacing="-0.85" word-spacing="-2.5">Wavenumber (cm<tspan font-size="69" dy="-41.9">-1</tspan><tspan dy="41.9" dx="0.8">)</tspan></text>
<text transform="translate(102.4,1012.5) rotate(-90)" font-size="92.7" textLength="519.5" lengthAdjust="spacing">Absorbance</text>
</g></g>
</svg>
</body></html>
